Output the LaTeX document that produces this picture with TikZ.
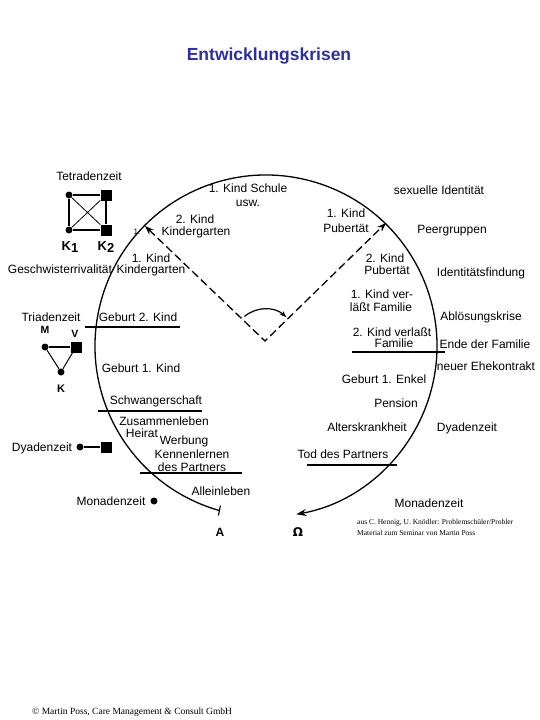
\documentclass[tikz,border=0pt]{standalone}
\usepackage{fontspec}
\setmainfont{Liberation Sans}
\newfontfamily\seriffam{Liberation Serif}
\newfontfamily\djv{DejaVu Sans}
\usetikzlibrary{arrows.meta,calc}
\definecolor{titleblue}{RGB}{46,49,146}
\begin{document}
\begin{tikzpicture}[x=1pt,y=-1pt,
  lbl/.style={anchor=base, font=\fontsize{12}{14}\selectfont, inner sep=0pt},
  bl/.style={anchor=base, font=\fontsize{12}{14}\selectfont\bfseries, inner sep=0pt},
  dotnode/.style={circle, fill, inner sep=0pt, minimum size=7pt},
  sqnode/.style={rectangle, fill, inner sep=0pt, minimum size=11pt},
  edge/.style={line width=1.5pt},
  thinedge/.style={line width=0.8pt},
  circ/.style={line width=1.3pt},
  sepline/.style={line width=1.3pt},
  dashedline/.style={line width=1.3pt, dash pattern=on 8pt off 4pt},
]
\useasboundingbox (0,0) rectangle (540,720);
\fill[white] (0,0) rectangle (540,720);

% title
\node[anchor=base, inner sep=0pt, text=titleblue, font=\fontsize{17.5}{20}\selectfont\bfseries] (title) at (269,60) {Entwicklungskrisen};

% main circle arc
\coordinate (C) at (266,346);
\coordinate (A) at ($(C)+(105.8:171)$);
\draw[circ, -{Stealth[length=10pt,width=7pt]}] (A) arc[start angle=105.8, end angle=439.8, radius=171] coordinate (Om);
\draw[line width=1.1pt] ($(A)+(1,-5)$) -- ($(A)+(-1,5)$);

% dashed V
\coordinate (apex) at (265,341);
\coordinate (pL) at (145,226);
\coordinate (pR) at (386,223);
\draw[dashedline, {Stealth[length=9pt,width=6.5pt]}-{Stealth[length=9pt,width=6.5pt]}] (pL) -- (apex) -- (pR);
\draw[line width=1.2pt, -{Stealth[length=7pt,width=5pt]}] ($(apex)+(230:32)$) arc[start angle=230, end angle=312, radius=32];

% separator lines
\coordinate (g2a) at (85,327); \coordinate (g2b) at (180,327);
\draw[sepline] (g2a) -- (g2b);
\coordinate (swa) at (98,411); \coordinate (swb) at (202,411);
\draw[sepline] (swa) -- (swb);
\coordinate (kna) at (140,473); \coordinate (knb) at (242,473);
\draw[sepline] (kna) -- (knb);
\coordinate (vfa) at (352,352); \coordinate (vfb) at (445,352);
\draw[sepline] (vfa) -- (vfb);
\coordinate (tpa) at (307,465); \coordinate (tpb) at (397,465);
\draw[sepline] (tpa) -- (tpb);

% inner labels
\node[lbl] (k1s1) at (248,192) {1. Kind Schule};
\node[lbl] (k1s2) at (248,206) {usw.};
\node[lbl] (k2k1) at (195,223) {2. Kind};
\node[lbl] (k2k2) at (196,235) {Kindergarten};
\node[anchor=base, inner sep=0pt, font=\fontsize{8}{9}\selectfont] (one) at (137,234) {1.};
\node[lbl] (k1k1) at (151,262) {1. Kind};
\node[lbl] (k1k2) at (151,273) {Kindergarten};
\node[lbl] (k1p1) at (346,217) {1. Kind};
\node[lbl] (k1p2) at (346,232) {Pubertät};
\node[lbl] (k2p1) at (385,262) {2. Kind};
\node[lbl] (k2p2) at (387,274) {Pubertät};
\node[lbl] (k1v1) at (382,298) {1. Kind ver-};
\node[lbl] (k1v2) at (381,311) {läßt Familie};
\node[lbl] (k2v1) at (392,336) {2. Kind verlaßt};
\node[lbl] (k2v2) at (394,347) {Familie};
\node[lbl] (enkel) at (384,383) {Geburt 1. Enkel};
\node[lbl] (pension) at (396,407) {Pension};
\node[lbl] (alter) at (367,431) {Alterskrankheit};
\node[lbl] (tod) at (343,458) {Tod des Partners};
\node[lbl] (geb2) at (138,321) {Geburt 2. Kind};
\node[lbl] (geb1) at (141,372) {Geburt 1. Kind};
\node[lbl] (schw) at (156,404) {Schwangerschaft};
\node[lbl] (zus) at (164,425) {Zusammenleben};
\node[lbl] (heirat) at (142,437) {Heirat};
\node[lbl] (werb) at (184,444) {Werbung};
\node[lbl] (kenn) at (192,458) {Kennenlernen};
\node[lbl] (desp) at (192,471) {des Partners};
\node[lbl] (allein) at (221,495) {Alleinleben};

% outer right labels
\node[lbl] (sex) at (439,194) {sexuelle Identität};
\node[lbl] (peer) at (452,233) {Peergruppen};
\node[lbl] (ident) at (481,276) {Identitätsfindung};
\node[lbl] (abl) at (481,320) {Ablösungskrise};
\node[lbl] (ende) at (485,348) {Ende der Familie};
\node[lbl] (ehe) at (486,370) {neuer Ehekontrakt};
\node[lbl] (dyR) at (467,431) {Dyadenzeit};
\node[lbl] (monR) at (429,507) {Monadenzeit};

% outer left labels
\node[lbl] (tetra) at (89,180) {Tetradenzeit};
\node[lbl] (gesch) at (60,273) {Geschwisterrivalität};
\node[lbl] (triad) at (51,321) {Triadenzeit};
\node[lbl] (dyL) at (42,451) {Dyadenzeit};
\node[lbl] (monL) at (111,505) {Monadenzeit};

% tetrad
\node[dotnode] (t1) at (69,195) {};
\node[sqnode] (t2) at (106,195) {};
\node[dotnode] (t3) at (69,230) {};
\node[sqnode] (t4) at (106,230) {};
\draw[edge] (t1) -- (t2) -- (t4) -- (t3) -- (t1);
\draw[thinedge] (t1) -- (t4);
\draw[thinedge] (t2) -- (t3);
\node[bl, font=\fontsize{13}{15}\selectfont\bfseries] (K1) at (70,250) {K\raisebox{-2.5pt}{1}};
\node[bl, font=\fontsize{13}{15}\selectfont\bfseries] (K2) at (106,250) {K\raisebox{-2.5pt}{2}};

% triad
\node[dotnode] (M) at (45,347) {};
\node[sqnode] (V) at (76,347) {};
\node[dotnode] (Kt) at (61,372) {};
\draw[edge] (M) -- (V);
\draw[thinedge, line width=1pt] (M) -- (Kt) -- (V);
\node[bl, font=\fontsize{10.5}{12}\selectfont\bfseries] (Ml) at (45,333) {M};
\node[bl, font=\fontsize{10.5}{12}\selectfont\bfseries] (Vl) at (75,337) {V};
\node[bl, font=\fontsize{11}{12}\selectfont\bfseries] (Kl) at (61,392) {K};

% dyad
\node[dotnode] (d1) at (80,447) {};
\node[sqnode] (d2) at (106,447) {};
\draw[edge] (d1) -- (d2);

% monad
\node[dotnode] (m1) at (154,501) {};

% A and Omega
\node[bl, font=\fontsize{12}{14}\selectfont\bfseries] (Alab) at (220,536) {A};
\node[anchor=base, inner sep=0pt, font=\djv\fontsize{12}{14}\selectfont\bfseries] (Omlab) at (298,536) {Ω};

% citation
\node[anchor=base west, inner sep=0pt, font=\seriffam\fontsize{7.5}{9}\selectfont] (cit1) at (357,524) {aus C. Hennig, U. Knödler: Problemschüler/Probler};
\node[anchor=base west, inner sep=0pt, font=\seriffam\fontsize{7.5}{9}\selectfont] (cit2) at (357,535) {Material zum Seminar von Martin Poss};

% footer
\node[anchor=base west, inner sep=0pt, font=\seriffam\fontsize{9.5}{11}\selectfont] (foot) at (32,714) {© Martin Poss, Care Management \& Consult GmbH};
\end{tikzpicture}
\end{document}
